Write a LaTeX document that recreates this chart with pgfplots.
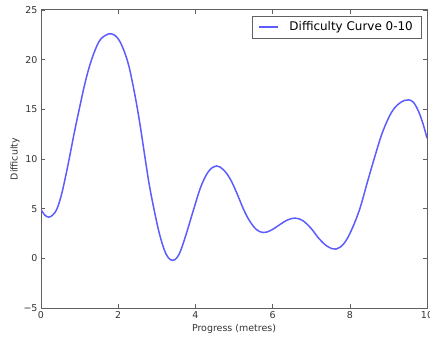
\documentclass[border=0pt]{standalone}
\usepackage{fontspec}
\setmainfont{DejaVu Sans}
\usepackage{pgfplots}
\pgfplotsset{compat=1.18}
\definecolor{diffblue}{rgb}{0.36,0.36,1.0}
\definecolor{framegray}{gray}{0.38}
\begin{document}
\begin{tikzpicture}
\begin{axis}[
  at={(0,0)}, anchor=south west,
  width=386bp, height=298bp, scale only axis,
  xmin=0, xmax=10, ymin=-5, ymax=25,
  xtick={0,2,4,6,8,10}, xticklabels={0,2,4,6,8,10},
  ytick={-5,0,5,10,15,20,25}, yticklabels={−5,0,5,10,15,20,25},
  tick align=inside, major tick length=4bp,
  tick style={color=framegray, line width=0.6bp},
  axis line style={color=framegray, line width=1bp},
  ticklabel style={font=\fontsize{9.5}{11}\selectfont, text=black!80},
  /pgf/number format/assume math mode=true,
  xlabel={Progress (metres)}, ylabel={Difficulty},
  label style={font=\fontsize{9.5}{11}\selectfont, text=black!80},
  x label style={at={(axis description cs:0.5,-0.0705)}, anchor=center},
  y label style={at={(axis description cs:-0.0674,0.5)}, anchor=center},
  legend style={at={(1,1)}, anchor=north east, xshift=-6bp, yshift=-6bp,
    draw=framegray, font=\fontsize{12}{14}\selectfont,
    inner xsep=6bp, inner ysep=3.5bp,
    /tikz/every odd column/.append style={column sep=9bp}},
  legend cell align=left,
]
\addlegendimage{legend image code/.code={\draw[diffblue, line width=1.5bp] (0bp,0bp) -- (19bp,0bp);}}
\addlegendentry{Difficulty Curve 0-10}
\addplot[diffblue, line width=1.5bp, smooth, tension=0.6, forget plot] coordinates {
(0,4.9) (0.1,4.35) (0.2,4.15) (0.3,4.35) (0.41,4.95) (0.53,6.4) (0.64,8.3) (0.73,10.0)
(0.86,12.6) (0.99,15.0) (1.15,17.8) (1.31,20.0) (1.5,21.8) (1.67,22.45)
(1.83,22.6) (1.98,22.2) (2.12,21.2) (2.26,19.6) (2.38,17.5) (2.5,15.0)
(2.6,12.6) (2.7,10.0) (2.81,7.3) (2.93,4.9) (3.06,2.6) (3.19,0.9)
(3.3,0.05) (3.41,-0.2) (3.52,0.05) (3.63,0.9) (3.79,2.8) (3.96,5.0)
(4.15,7.3) (4.35,8.8) (4.55,9.3) (4.73,8.9) (4.9,8.0) (5.07,6.6)
(5.24,5.0) (5.4,3.8) (5.58,2.9) (5.76,2.6) (5.95,2.8) (6.15,3.3)
(6.38,3.85) (6.58,4.05) (6.78,3.8) (7.0,3.0) (7.2,2.0) (7.42,1.2)
(7.64,0.93) (7.85,1.5) (8.05,2.9) (8.26,5.0) (8.45,7.6) (8.63,10.0)
(8.82,12.4) (9.0,14.1) (9.15,15.1) (9.3,15.65) (9.42,15.9) (9.53,15.95)
(9.65,15.7) (9.78,14.8) (9.9,13.5) (10,12.1)
};
\end{axis}
\pgfresetboundingbox
\path (-41bp,-32bp) rectangle (389bp,308bp);
\end{tikzpicture}
\end{document}
